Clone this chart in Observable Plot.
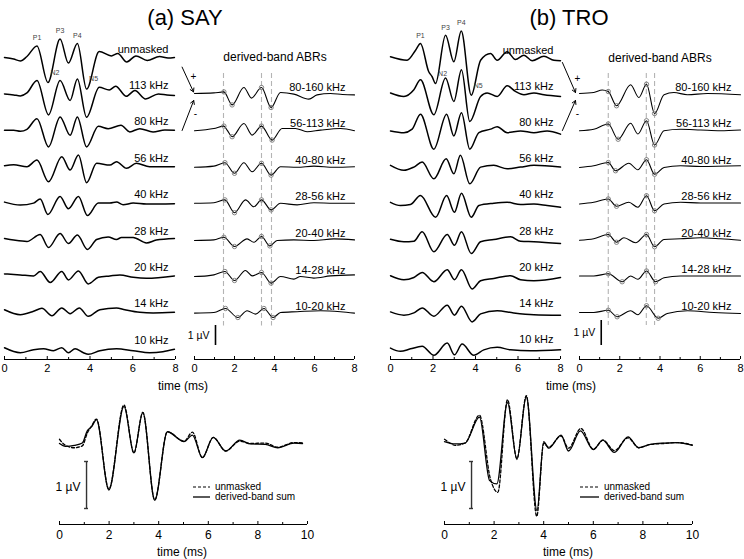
<!DOCTYPE html>
<html><head><meta charset="utf-8">
<script src="https://cdn.jsdelivr.net/npm/d3@7"></script>
<script src="https://cdn.jsdelivr.net/npm/@observablehq/plot@0.6"></script>
<style>
body{margin:0;background:#fff;font-family:"Liberation Sans",Arial,sans-serif;color:#000;}
#root{position:relative;width:744px;height:559px;overflow:hidden;background:#fff;}
#root svg{overflow:visible;}
.t{position:absolute;white-space:nowrap;transform:translate(-50%,-50%);line-height:1;}
</style></head><body><div id="root"></div>
<script>
// ---------------- DATA ----------------
const maskedLabels = ["unmasked","113 kHz","80 kHz","56 kHz","40 kHz","28 kHz","20 kHz","14 kHz","10 kHz"];
const bandLabels = ["80-160 kHz","56-113 kHz","40-80 kHz","28-56 kHz","20-40 kHz","14-28 kHz","10-20 kHz"];
const peakNames = ["P1","N2","P3","P4","N5"];
const timeTicks = [0,2,4,6,8];
const timeMinor = [1,3,5,7];
const sumTicks = [0,2,4,6,8,10];
const sumMinor = [1,3,5,7,9];

// SAY high-pass masked ABRs: flat [t(ms), µV, ...]
const sayMasked = [
[0,0, 0.43,-0.08, 0.74,-0.17, 1.05,0.05, 1.52,0.58, 2.03,-1.25, 2.6,0.92, 2.99,-0.28, 3.41,0.7, 3.84,-1.58, 4.43,0.3, 5.0,0.08, 5.3,0.2, 5.72,-0.22, 6.15,0.08, 6.68,-0.15, 7.25,0.05, 7.65,-0.03, 7.95,0],
[0,0, 0.43,-0.05, 0.74,-0.1, 1.05,0.05, 1.52,0.67, 2.06,-1.05, 2.6,0.67, 3.07,-0.33, 3.41,0.75, 3.84,-1.17, 4.43,0.33, 4.9,0.2, 5.2,0.38, 5.7,-0.12, 6.1,0.17, 6.6,-0.25, 7.2,0, 7.6,-0.05, 7.95,-0.08],
[0,0, 0.43,0, 0.74,-0.05, 1.05,0.05, 1.52,0.58, 2.06,-0.83, 2.6,0.67, 3.07,-0.25, 3.41,0.67, 3.84,-0.83, 4.39,0.2, 4.85,0.08, 5.45,0.25, 5.86,-0.08, 6.33,0.08, 6.95,-0.08, 7.5,0.02, 7.95,0],
[0,0.05, 0.43,0.1, 1.05,0, 1.52,0.33, 2.06,-0.75, 2.68,0.5, 3.07,-0.17, 3.46,0.58, 3.84,-0.8, 4.31,0.17, 4.93,0.08, 5.24,0.25, 5.71,-0.08, 6.17,0.17, 6.79,0, 7.95,0],
[0,0.05, 0.74,-0.1, 1.36,0, 1.67,0.2, 2.03,-0.57, 2.6,0.33, 2.99,-0.28, 3.46,0.33, 3.88,-0.62, 4.39,0, 4.93,0, 5.24,0.05, 5.55,-0.08, 6.02,0, 6.64,-0.05, 7.95,-0.03],
[0,0.05, 0.43,-0.03, 1.05,-0.1, 1.67,0.25, 2.06,-0.4, 2.6,0.3, 2.99,-0.2, 3.41,0.22, 3.88,-0.5, 4.31,0, 4.85,0.13, 5.24,0, 5.47,0.1, 6.02,0.1, 6.64,-0.17, 7.1,-0.03, 7.95,0.05],
[0,0.1, 0.74,0.05, 1.36,0, 1.67,0.22, 2.14,-0.33, 2.68,0.22, 2.99,-0.2, 3.46,0.25, 3.92,-0.4, 4.39,-0.07, 4.93,0, 5.4,0.05, 6.02,-0.07, 6.64,-0.12, 7.95,0],
[0,0.13, 0.74,-0.12, 1.36,0.05, 1.75,0.2, 2.22,-0.17, 2.68,0.22, 3.07,-0.07, 3.5,0.22, 3.92,-0.2, 4.46,0.13, 5.24,0.22, 5.63,0.13, 6.33,0, 6.95,-0.03, 7.95,0],
[0,0.05, 0.74,-0.2, 1.36,-0.05, 1.83,0, 2.29,-0.1, 2.68,0.05, 2.99,-0.2, 3.3,0, 3.69,-0.2, 3.92,-0.28, 4.46,-0.1, 5.24,0, 6.02,-0.1, 6.79,-0.2, 7.41,-0.15, 7.95,-0.03]
];
const sayPeakIdx = [4,5,6,8,9];

// SAY derived-band ABRs
const sayDerived = [
[0,0, 0.97,0.03, 1.47,0.08, 1.88,-0.57, 2.47,0.3, 2.85,-0.23, 3.35,0.3, 3.83,-0.7, 4.3,0.05, 4.97,-0.03, 5.72,-0.28, 6.13,-0.07, 6.8,0, 7.4,-0.05, 8,-0.07],
[0,-0.03, 0.97,0.08, 1.47,0.2, 1.63,0.0, 1.88,-0.33, 2.47,0.33, 2.88,-0.25, 3.35,0.2, 3.88,-0.5, 4.38,0.08, 5.05,0.08, 5.63,-0.08, 6.3,0, 7.3,0.08, 8,-0.03],
[0,-0.03, 0.97,0.03, 1.52,0.2, 2.0,-0.33, 2.47,0.2, 2.88,-0.25, 3.35,0.17, 3.83,-0.42, 4.3,0, 5.13,-0.03, 5.97,0.03, 6.97,-0.03, 8,0],
[0,0, 0.97,0.03, 1.52,0.17, 2.0,-0.47, 2.55,0.17, 2.97,-0.17, 3.35,0.17, 3.83,-0.33, 4.3,0, 5.13,-0.08, 5.97,0.03, 6.97,0, 8,0],
[0,-0.03, 0.97,0, 1.47,0.13, 2.0,-0.33, 2.63,0.05, 2.97,-0.12, 3.35,0.17, 3.77,-0.3, 4.13,-0.03, 4.97,0, 5.97,-0.03, 6.97,0.05, 8,0],
[0,0, 0.63,0.03, 0.97,0.08, 1.52,0.25, 2.0,-0.2, 2.55,0.3, 2.88,0.03, 3.35,0.2, 3.83,-0.33, 4.3,0, 4.97,-0.13, 5.3,0, 5.97,-0.08, 6.8,0.03, 8,0.08],
[0,0, 0.97,0.03, 1.55,0.23, 2.17,-0.22, 2.63,0.12, 3.05,-0.05, 3.47,0.23, 3.93,-0.22, 4.3,0.03, 5.13,0.07, 6.3,0.12, 7.3,0.07, 8,0]
];
const sayMarkIdx = [[2,3,6,7],[2,4,7,8],[2,3,6,7],[2,3,6,7],[2,3,6,7],[3,4,7,8],[2,3,6,7]];
const sayLatency = [1.45, 3.35, 3.85];

// TRO high-pass masked ABRs
const troMasked = [
[0,0.07, 0.78,-0.07, 1.18,0.33, 1.41,0.6, 1.8,-0.53, 1.96,-0.73, 2.12,-1.0, 2.59,0.93, 2.98,-0.13, 3.33,1.1, 3.8,-1.47, 4.24,-0.07, 4.71,0.2, 5.02,-0.07, 5.49,0.27, 5.88,-0.04, 6.28,0.13, 6.67,-0.09, 7.22,0.09, 7.69,-0.07, 8,-0.09],
[0,0.07, 0.63,-0.07, 1.1,0.2, 1.41,0.6, 2.04,-0.8, 2.59,0.67, 2.98,-0.27, 3.34,1.0, 3.73,-1.07, 4.24,-0.07, 4.55,0.07, 5.02,-0.07, 5.49,0.36, 5.88,0.13, 6.28,0, 6.75,0.07, 7.22,0, 8,-0.07],
[0,0, 0.63,-0.07, 1.02,0.07, 1.41,0.67, 2.04,-0.73, 2.64,0.67, 2.98,-0.2, 3.34,0.73, 3.73,-0.73, 4.16,-0.07, 4.71,0.07, 5.02,0.17, 5.49,-0.07, 6.12,0, 6.75,-0.07, 7.37,0, 8,-0.13],
[0,0.07, 0.63,-0.13, 1.1,0, 1.49,0.2, 2.04,-0.47, 2.62,0.33, 2.98,-0.27, 3.29,0.47, 3.73,-0.67, 4.24,0, 4.86,0.07, 5.49,-0.07, 6.12,0, 6.75,0.07, 8,0],
[0,0.04, 0.47,-0.09, 0.94,-0.05, 1.41,0.31, 2.12,-0.56, 2.64,0.31, 3.01,-0.36, 3.34,0.4, 3.8,-0.56, 4.16,-0.09, 4.86,0, 5.49,0.04, 6.12,-0.05, 6.75,-0.03, 7.37,-0.09, 8,-0.16],
[0,0.01, 0.63,-0.09, 1.1,-0.07, 1.49,0.31, 2.04,-0.49, 2.67,0.2, 3.01,-0.23, 3.34,0.31, 3.8,-0.56, 4.24,-0.09, 4.86,0, 5.65,0.11, 6.12,-0.07, 6.75,-0.09, 8,-0.16],
[0,0, 0.63,-0.16, 1.1,-0.07, 1.49,0.13, 2.04,-0.24, 2.67,0.24, 3.01,-0.16, 3.34,0.24, 3.84,-0.53, 4.24,-0.2, 4.86,-0.11, 5.65,0, 6.12,-0.16, 6.75,-0.2, 8,-0.07],
[0,0, 0.63,-0.13, 1.1,-0.04, 1.49,0.16, 2.04,-0.17, 2.67,0.27, 3.01,-0.13, 3.34,0.23, 3.84,-0.4, 4.24,-0.08, 5.02,0.05, 5.8,-0.04, 6.75,-0.11, 8,-0.13],
[0,0, 0.47,-0.13, 0.94,-0.03, 1.49,0.07, 2.04,-0.29, 2.67,0.2, 3.01,-0.27, 3.37,0.16, 3.92,-0.29, 4.39,-0.07, 5.02,0.03, 5.65,-0.07, 6.59,-0.11, 8,-0.07]
];
const troPeakIdx = [3,6,7,9,10];

// TRO derived-band ABRs
const troDerived = [
[0,0, 0.71,0.04, 1.13,0.14, 1.43,0.08, 1.84,-0.49, 2.54,0.35, 2.95,-0.16, 3.33,0.37, 3.73,-0.8, 4.2,-0.05, 4.69,0.04, 5.36,-0.05, 6.35,0, 8,-0.05],
[0,-0.03, 0.71,0.03, 1.43,0.24, 1.92,-0.37, 2.54,0.27, 2.9,-0.16, 3.33,0.37, 3.73,-0.6, 4.2,-0.03, 5.02,0.03, 6.02,0, 7.0,-0.03, 8,0],
[0,-0.04, 0.71,0.03, 1.43,0.16, 1.79,-0.17, 2.45,0.13, 2.9,-0.13, 3.33,0.27, 3.73,-0.31, 4.2,-0.04, 5.02,0.03, 6.02,0, 8,0.03],
[0,-0.04, 0.71,0.03, 1.43,0.16, 1.84,-0.13, 2.45,0.03, 2.9,-0.17, 3.33,0.29, 3.73,-0.31, 4.2,-0.04, 5.02,0.03, 6.02,0, 8,0],
[0,-0.03, 0.71,0.03, 1.43,0.2, 1.84,-0.11, 2.21,0.07, 2.79,-0.13, 3.33,0.2, 3.73,-0.29, 4.2,0, 5.02,0.03, 6.02,0.07, 7.0,0.03, 8,-0.03],
[0,0, 0.71,0, 1.43,0.09, 2.12,-0.23, 2.54,0, 2.9,-0.13, 3.33,0.2, 3.78,-0.23, 4.2,-0.07, 5.02,0, 6.02,0, 8,0],
[0,0, 0.71,0, 1.43,0.09, 1.87,-0.17, 2.54,0.07, 2.9,-0.09, 3.33,0.27, 3.91,-0.23, 4.36,-0.04, 5.36,0.07, 6.68,0, 8,-0.04]
];
const troMarkIdx = [[3,4,7,8],[2,3,6,7],[2,3,6,7],[2,3,6,7],[2,3,6,7],[2,3,6,7],[2,3,6,7]];
const troLatency = [1.43, 3.32, 3.73];

// Unmasked vs derived-band sum (0-10 ms)
const sayUnmasked = [0,0.09, 0.24,-0.04, 0.6,-0.09, 0.92,-0.05, 1.12,0.22, 1.3,0.38, 1.49,0.52, 1.99,-0.97, 2.6,0.82, 3.0,-0.2, 3.36,0.66, 3.84,-1.2, 4.35,0.25, 5.02,0.05, 5.36,0.24, 5.76,-0.3, 6.2,0.13, 6.7,-0.16, 7.27,0.05, 7.7,0.0, 8.3,0.01, 8.8,-0.08, 9.46,0.02, 9.8,0.01];
const saySum      = [0,0, 0.24,-0.06, 0.6,-0.04, 0.92,0.01, 1.12,0.27, 1.3,0.36, 1.49,0.51, 1.99,-0.99, 2.6,0.79, 3.0,-0.2, 3.36,0.66, 3.84,-1.21, 4.35,0.25, 5.02,0.04, 5.36,0.18, 5.76,-0.3, 6.2,0.13, 6.7,-0.16, 7.27,0.07, 7.7,-0.01, 8.3,-0.02, 8.8,-0.09, 9.46,0.01, 9.8,0];
const troUnmasked = [0,0.09, 0.25,0.0, 0.43,-0.04, 0.83,0.01, 1.41,0.6, 1.85,-0.75, 2.15,-1.04, 2.54,0.93, 2.92,-0.32, 3.3,1.02, 3.72,-1.55, 4.0,0.0, 4.2,-0.08, 4.7,0.16, 5.0,-0.1, 5.5,0.32, 6.0,-0.12, 6.4,0.07, 6.85,-0.15, 7.4,0.12, 7.83,-0.09, 8.3,-0.02, 8.84,0.0, 9.38,0.02, 9.99,-0.03];
const troSum      = [0,0.04, 0.43,-0.01, 0.83,0.01, 1.41,0.56, 1.82,-0.79, 2.11,-0.86, 2.54,0.87, 2.92,-0.34, 3.3,1.0, 3.73,-1.43, 4.0,0.04, 4.2,-0.1, 4.7,0.18, 5.0,-0.16, 5.48,0.27, 6.0,-0.13, 6.38,0.07, 6.85,-0.19, 7.4,0.14, 7.83,-0.09, 8.3,-0.02, 8.84,0.01, 9.38,0.02, 9.99,-0.04];

// ---------------- RENDER ----------------
const root = document.getElementById("root");
const FONT = "'Liberation Sans', Arial, Helvetica, sans-serif";
function toPts(flat){const o=[];for(let i=0;i<flat.length;i+=2)o.push({t:flat[i],v:flat[i+1]});return o;}
function place(el,left,top){el.style.position="absolute";el.style.left=left+"px";el.style.top=top+"px";root.appendChild(el);}
function html(text,x,y,size,extra=""){const d=document.createElement("div");d.className="t";d.textContent=text;d.style.left=x+"px";d.style.top=y+"px";d.style.fontSize=size+"px";if(extra)d.style.cssText+=extra;root.appendChild(d);}

function column(o){
  const k=o.k, S=o.spacing/k, n=o.traces.length;
  const pts=o.traces.map(toPts);
  const rows=pts.flatMap((p,i)=>p.map(q=>({id:i,t:q.t,y:q.v-i*S})));
  const ymax=(o.base0-o.top)/k, ymin=-(o.axis-o.base0)/k;
  const marks=[];
  if(o.lat) marks.push(Plot.ruleX(o.lat,{x:d=>d,y1:20/k,y2:-(n-1)*S-13/k,stroke:"#b4b4b4",strokeDasharray:"5,3",strokeWidth:1.1}));
  marks.push(Plot.ruleY([ymin],{stroke:"#000",strokeWidth:1.1}));
  marks.push(Plot.axisX({ticks:timeTicks,tickSize:-3,tickPadding:8,fontSize:11,label:null,tickFormat:d=>d}));
  marks.push(Plot.axisX({ticks:timeMinor,tickSize:-2,tickPadding:8,label:null,tickFormat:()=>""}));
  marks.push(Plot.line(rows,{x:"t",y:"y",z:"id",curve:"monotone-x",stroke:"#000",strokeWidth:o.sw}));
  marks.push(Plot.text(o.labels,{y:(d,i)=>-i*S,text:d=>d,frameAnchor:"right",textAnchor:"end",dx:o.labelDx,dy:o.labelDy,fontSize:11,fill:"#000"}));
  if(o.peakIdx){
    const p0=pts[0];
    const lab=o.peakIdx.map((j,m)=>({t:p0[j].t,y:p0[j].v,name:peakNames[m]}));
    marks.push(Plot.text(lab.filter(d=>d.name[0]==="P"),{x:"t",y:"y",text:"name",dy:-8,fontSize:7,fill:"#444"}));
    marks.push(Plot.text(lab.filter(d=>d.name[0]==="N"),{x:"t",y:"y",text:"name",dx:7,dy:-10,fontSize:7,fill:"#444"}));
  }
  if(o.markIdx){
    const mk=o.markIdx.flatMap((idx,i)=>idx.map(j=>({t:pts[i][j].t,y:pts[i][j].v-i*S})));
    marks.push(Plot.dot(mk,{x:"t",y:"y",r:2.2,stroke:"#777",strokeWidth:0.9,fill:"none"}));
  }
  if(o.arrows){
    marks.push(Plot.arrow(o.arrows,{x1:"x1",y1:"y1",x2:"x2",y2:"y2",stroke:"#000",strokeWidth:1,headLength:6}));
    marks.push(Plot.text(o.signs,{x:"x",y:"y",text:"s",fontSize:10,fill:"#000"}));
  }
  if(o.bar){
    const b0=-(n-1)*S-o.bar.gap/k, b1=b0-1;
    marks.push(Plot.ruleX([o.bar.t],{x:d=>d,y1:b0,y2:b1,stroke:"#000",strokeWidth:1.6}));
    marks.push(Plot.text(["1 µV"],{x:o.bar.t,y:(b0+b1)/2,text:d=>d,textAnchor:"end",dx:-6,fontSize:10.5,fill:"#000"}));
  }
  const svg=Plot.plot({
    width:o.width,height:o.axis-o.top+22,marginTop:0,marginBottom:22,
    marginLeft:o.x0-o.left,marginRight:o.left+o.width-o.x8,
    x:{domain:[0,8]},y:{domain:[ymin,ymax],axis:null},
    style:`overflow:visible;background:transparent;font-family:${FONT};`,
    marks
  });
  place(svg,o.left,o.top);
}

function sumPlot(o){
  const k=o.k;
  const ymax=(o.base-o.top)/k, ymin=-(o.axis-o.base)/k;
  const b0=-(o.barTop-o.base)/k, b1=b0-1;
  const svg=Plot.plot({
    width:o.width,height:o.axis-o.top+22,marginTop:0,marginBottom:22,
    marginLeft:o.x0-o.left,marginRight:o.left+o.width-o.x10,
    x:{domain:[0,10]},y:{domain:[ymin,ymax],axis:null},
    style:`overflow:visible;background:transparent;font-family:${FONT};`,
    marks:[
      Plot.ruleY([ymin],{stroke:"#000",strokeWidth:1.1}),
      Plot.axisX({ticks:sumTicks,tickSize:-3,tickPadding:9,fontSize:12,label:null,tickFormat:d=>d}),
      Plot.axisX({ticks:sumMinor,tickSize:-2,tickPadding:9,label:null,tickFormat:()=>""}),
      Plot.line(toPts(o.unmasked),{x:"t",y:"v",curve:"monotone-x",stroke:"#000",strokeWidth:1.3,strokeDasharray:"3,2"}),
      Plot.line(toPts(o.sum),{x:"t",y:"v",curve:"monotone-x",stroke:"#000",strokeWidth:1.3}),
      Plot.ruleX([o.barT],{x:d=>d,y1:b0,y2:b1,stroke:"#333",strokeWidth:1.4}),
      Plot.ruleY([b0,b1],{y:d=>d,x1:o.barT-0.08,x2:o.barT+0.08,stroke:"#333",strokeWidth:1.4}),
      Plot.text(["1 µV"],{x:o.barT,y:(b0+b1)/2,text:d=>d,textAnchor:"end",dx:-6,dy:2,fontSize:12,fill:"#000"})
    ]
  });
  place(svg,o.left,o.top);
  const lg=document.createElement("div");
  lg.innerHTML=`<svg width="120" height="22" style="overflow:visible;font-family:${FONT};font-size:10px">
   <line x1="3" x2="${o.legLen}" y1="6" y2="6" stroke="#000" stroke-width="1.2" stroke-dasharray="3,2"/>
   <text x="${o.legLen+5}" y="6" dominant-baseline="middle">unmasked</text>
   <line x1="3" x2="${o.legLen}" y1="16" y2="16" stroke="#000" stroke-width="1.3"/>
   <text x="${o.legLen+5}" y="16" dominant-baseline="middle">derived-band sum</text></svg>`;
  place(lg,o.legX,481);
}

// Panel (a) SAY
column({traces:sayMasked,labels:maskedLabels,k:20,spacing:36.4,base0:57,top:0,axis:359,left:0,width:190,x0:4,x8:175,sw:1.5,labelDx:-7,labelDy:-8.5,peakIdx:sayPeakIdx});
column({traces:sayDerived,labels:bandLabels,k:20,spacing:36.6,base0:93,top:0,axis:359,left:176,width:190,x0:194,x8:354,sw:1.1,labelDx:-9,labelDy:-6.5,
  markIdx:sayMarkIdx,lat:sayLatency,bar:{t:1.05,gap:12.4},
  arrows:[{x1:-0.62,y1:1.32,x2:-0.05,y2:0.08},{x1:-0.62,y1:-1.85,x2:-0.04,y2:-0.35}],
  signs:[{x:-0.05,y:0.85,s:"+"},{x:0.05,y:-1.0,s:"-"}]});
// Panel (b) TRO
column({traces:troMasked,labels:maskedLabels,k:25,spacing:36.2,base0:58,top:0,axis:359,left:385,width:190,x0:390,x8:560,sw:1.5,labelDx:-7,labelDy:-8.5,peakIdx:troPeakIdx});
column({traces:troDerived,labels:bandLabels,k:25,spacing:36.5,base0:93,top:0,axis:359,left:561,width:183,x0:579,x8:740,sw:1.1,labelDx:-9,labelDy:-6.5,
  markIdx:troMarkIdx,lat:troLatency,bar:{t:1.08,gap:8},
  arrows:[{x1:-0.85,y1:1.24,x2:-0.2,y2:0.04},{x1:-0.85,y1:-1.48,x2:-0.2,y2:-0.28}],
  signs:[{x:-0.1,y:0.6,s:"+"},{x:-0.1,y:-0.8,s:"-"}]});

sumPlot({unmasked:sayUnmasked,sum:saySum,k:47,base:443,top:390,axis:524,left:40,width:280,x0:59,x10:307,barT:1.09,barTop:461,legX:190,legLen:20});
sumPlot({unmasked:troUnmasked,sum:troSum,k:47,base:443,top:390,axis:524,left:425,width:280,x0:444,x10:692,barT:1.09,barTop:461,legX:577,legLen:22});

// titles and axis labels
html("(a) SAY",185,18,22);
html("(b) TRO",569,18,22);
html("derived-band ABRs",275,57,12);
html("derived-band ABRs",660,58,12);
html("time (ms)",183,386,12);
html("time (ms)",571,386,12);
html("time (ms)",182,552,12);
html("time (ms)",568,552,12);
</script></body></html>
